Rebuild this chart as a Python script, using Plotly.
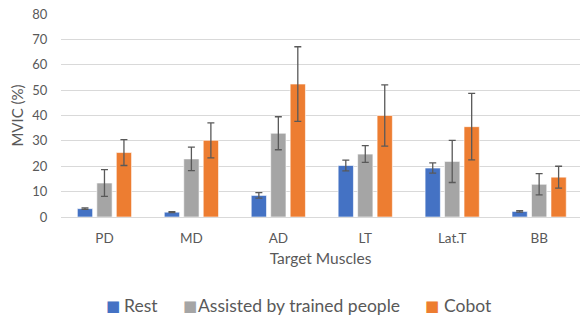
import plotly.graph_objects as go

categories = ["PD", "MD", "AD", "LT", "Lat.T", "BB"]
rest = [3.3, 1.9, 8.5, 20.3, 19.3, 2.2]
rest_err = [0.3, 0.2, 1.1, 2.1, 2.0, 0.3]
assisted = [13.4, 22.9, 33.0, 24.8, 21.9, 12.9]
assisted_err = [5.3, 4.6, 6.5, 3.3, 8.3, 4.2]
cobot = [25.4, 30.2, 52.4, 40.0, 35.6, 15.7]
cobot_err = [5.1, 6.9, 14.7, 12.1, 13.1, 4.3]

series_names = ["Rest", "Assisted by trained people", "Cobot"]
series_colors = ["#4472C4", "#A5A5A5", "#ED7D31"]
series_values = [rest, assisted, cobot]
series_errors = [rest_err, assisted_err, cobot_err]

W, H = 580, 316
ML, MR, MT = 60.5, 0, 14
MB = H - MT - 202.6

# Hand-made legend positions (pixels)
legend_square_px = [112.5, 190.0, 431.7]
legend_text_px = [121.5, 196.0, 441.5]
legend_y_px = 305.0

fig = go.Figure()
for name, vals, errs, color in zip(series_names, series_values, series_errors, series_colors):
    fig.add_trace(go.Bar(
        name=name, x=categories, y=vals, showlegend=False,
        marker=dict(color=color, line=dict(color="rgba(255,255,255,0.6)", width=1)),
        error_y=dict(type="data", array=errs, visible=True, color="#595959",
                     thickness=1.3, width=3.5),
    ))

pw = W - ML - MR
ph = H - MT - MB
def px_to_paper_x(px):
    return (px - ML) / pw
def px_to_paper_y(py):
    return (H - MB - py) / ph

annotations = []
for name, color, sx, tx in zip(series_names, series_colors, legend_square_px, legend_text_px):
    annotations.append(dict(
        text="■", x=px_to_paper_x(sx), y=px_to_paper_y(legend_y_px),
        xref="paper", yref="paper", xanchor="center", yanchor="middle",
        showarrow=False, font=dict(size=15, color=color, family="DejaVu Sans"),
    ))
    annotations.append(dict(
        text=name, x=px_to_paper_x(tx), y=px_to_paper_y(legend_y_px),
        xref="paper", yref="paper", xanchor="left", yanchor="middle",
        showarrow=False, font=dict(size=17.5, color="#595959"),
    ))

font_family = "Lato, 'Open Sans', sans-serif"
fig.update_layout(
    width=W, height=H,
    margin=dict(l=ML, r=MR, t=MT, b=MB),
    barmode="group", bargap=0.328, bargroupgap=0.215,
    plot_bgcolor="white", paper_bgcolor="white",
    font=dict(family=font_family, color="#595959", size=13),
    xaxis=dict(
        range=[-0.5, 5.47], showgrid=False, showline=True, linecolor="#D9D9D9",
        linewidth=1, ticks="outside", ticklen=9, tickcolor="rgba(0,0,0,0)",
        tickfont=dict(size=13.5, color="#595959"), automargin=False,
        title=dict(text="Target Muscles", font=dict(size=15.5, color="#595959"), standoff=7),
    ),
    yaxis=dict(
        range=[0, 80], dtick=10, showgrid=True, gridcolor="#D9D9D9", gridwidth=1,
        zeroline=False, ticks="outside", ticklen=10, tickcolor="rgba(0,0,0,0)",
        tickfont=dict(size=13, color="#595959"), automargin=False,
        title=dict(text="MVIC (%)", font=dict(size=15, color="#595959"), standoff=5),
    ),
    annotations=annotations,
)

fig.write_html("out.html", config={"displayModeBar": False},
               post_script="document.body.style.margin='0';")
